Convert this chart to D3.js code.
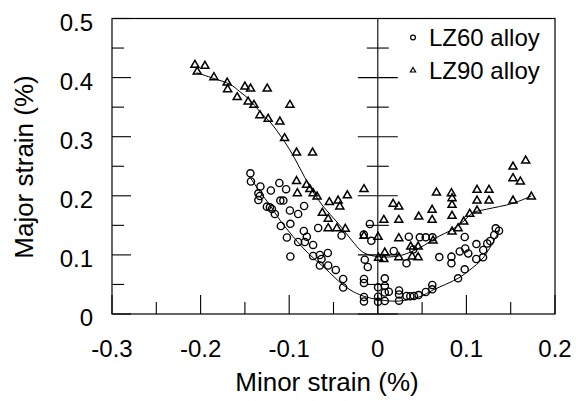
<!DOCTYPE html>
<html>
<head>
<meta charset="utf-8">
<script src="https://cdn.jsdelivr.net/npm/d3@7"></script>
<style>
  body { margin: 0; background: #fff; }
  text { font-family: "Liberation Sans", Arial, sans-serif; fill: #000; }
</style>
</head>
<body>
<script>
// minor / major strain, LZ60 alloy (circles)
var lz60X = [-0.1438,-0.1432,-0.1325,-0.1207,-0.1111,-0.1035,-0.1348,-0.1331,-0.1348,-0.110,-0.1066,
  -0.1252,-0.1218,-0.1195,-0.1162,-0.0992,-0.0899,-0.0832,-0.1094,-0.0987,-0.1026,-0.0899,-0.0835,
  -0.0823,-0.0801,-0.073,-0.0987,-0.073,-0.0654,-0.0635,-0.0654,-0.0564,-0.056,-0.0474,-0.0391,
  -0.0391,-0.0673,-0.0409,-0.009,-0.0158,-0.0073,-0.0147,-0.0113,-0.0156,-0.0156,-0.0156,-0.0156,
  0.0003,0.0003,0.0003,0.0079,0.0079,0.0079,0.0124,0.0079,0.024,0.024,0.024,0.0324,0.0367,0.0408,
  0.046,0.0541,0.0615,0.0615,0.0906,0.0981,0.1111,0.1188,0.119,0.1235,0.1269,0.1331,0.1368,0.1314,
  0.1113,0.0981,0.0925,0.1021,0.0987,0.0831,0.0831,0.0694,0.0617,0.0541,0.0474,0.035,0.018,0.0324,0.040];
var lz60Y = [0.2381,0.2242,0.2157,0.209,0.2217,0.2112,0.2042,0.1997,0.1929,0.192,0.192,
  0.1816,0.1805,0.1777,0.1692,0.1751,0.1692,0.1827,0.1489,0.1526,0.1294,0.1218,0.1404,
  0.1218,0.1308,0.1168,0.0973,0.0981,0.0998,0.0931,0.0821,0.1032,0.0821,0.0745,0.0592,
  0.0448,0.1455,0.1328,0.1523,0.1345,0.1239,0.0919,0.0795,0.0592,0.0525,0.0288,0.0212,
  0.0293,0.0208,0.0452,0.0604,0.0474,0.0364,0.0377,0.022,0.0398,0.033,0.0225,0.0305,0.030,0.0305,
  0.0321,0.0372,0.0418,0.0491,0.0604,0.0756,0.0931,0.0959,0.1083,0.1193,0.1235,0.145,0.1409,0.1337,
  0.1184,0.1303,0.1058,0.1024,0.1108,0.097,0.0858,0.0964,0.1298,0.1298,0.1298,0.1308,0.1066,0.0858,0.1091];

// LZ90 alloy (triangles)
var lz90X = [-0.2064,-0.1951,-0.2038,-0.185,-0.170,-0.1695,-0.150,-0.1436,-0.1248,-0.1587,-0.1463,
  -0.1398,-0.0992,-0.1331,-0.1237,-0.1105,-0.1052,-0.0917,-0.0736,-0.0917,-0.0804,-0.0767,-0.0908,
  -0.073,-0.0685,-0.0547,-0.0448,-0.0429,-0.0344,-0.0156,-0.0626,-0.056,-0.056,-0.0462,-0.0367,
  -0.0156,0.0003,0.0068,0.0079,0.0008,0.0068,0.0237,0.0173,0.0237,0.0237,0.0237,0.0372,0.0455,
  0.0387,0.0455,0.0462,0.0613,0.0613,0.0624,0.0662,0.0831,0.0838,0.0838,0.0838,0.0838,0.0906,
  0.097,0.1038,0.112,0.112,0.1255,0.112,0.1255,0.1526,0.1526,0.1669,0.1526,0.1609,0.1733];
var lz90Y = [0.4213,0.4196,0.410,0.4005,0.3914,0.380,0.3846,0.3812,0.3812,0.3667,0.3592,
  0.3536,0.3536,0.3362,0.330,0.3254,0.2973,0.2729,0.2729,0.2247,0.2183,0.211,0.2042,
  0.2042,0.1985,0.189,0.1917,0.1816,0.2005,0.211,0.1709,0.1607,0.145,0.145,0.1438,
  0.132,0.1303,0.159,0.1037,0.0948,0.0926,0.0959,0.1861,0.1816,0.159,0.128,0.1139,0.1139,
  0.097,0.0959,0.1646,0.159,0.176,0.124,0.2052,0.2042,0.1957,0.1844,0.1658,0.1393,0.145,
  0.1562,0.1692,0.1748,0.1917,0.1917,0.2098,0.2098,0.1917,0.2492,0.2594,0.2296,0.2239,0.1985];

// fitted curves
var fit60X = [-0.1444,-0.1331,-0.1218,-0.1105,-0.0955,-0.0786,-0.0598,-0.0391,-0.024,-0.009,
  0.0079,0.0248,0.0474,0.0624,0.0906,0.1038,0.1188,0.1376];
var fit60Y = [0.2318,0.2069,0.1844,0.159,0.1308,0.1027,0.0778,0.0491,0.035,0.0271,
  0.0228,0.022,0.0293,0.0406,0.0604,0.0745,0.0948,0.1421];
var fit90X = [-0.2045,-0.1857,-0.1669,-0.1556,-0.1444,-0.1331,-0.1218,-0.1105,-0.0992,-0.088,
  -0.0767,-0.062,-0.0448,-0.0297,-0.0166,0.0003,0.0229,0.038,0.053,0.068,0.0831,0.0962,
  0.1075,0.1226,0.1526,0.1733];
var fit90Y = [0.4083,0.3988,0.3887,0.3761,0.3621,0.3423,0.3254,0.3029,0.2775,0.247,
  0.2154,0.1827,0.1535,0.1252,0.1044,0.097,0.0981,0.1054,0.1168,0.1308,0.1421,0.1562,
  0.1714,0.1772,0.1873,0.1997];

var xTicks = [-0.3,-0.2,-0.1,0,0.1,0.2];
var xMinor = [-0.25,-0.15,-0.05,0.05,0.15];
var yTicks = [0,0.1,0.2,0.3,0.4,0.5];
var yMinor = [0.05,0.15,0.25,0.35,0.45];
var seriesNames = ["LZ60 alloy", "LZ90 alloy"];

var width = 576, height = 401;
// plot box edges (window.top is taken, so own names)
var pLeft = 112, pRight = 555, pTop = 18.5, pBottom = 314;

var x = d3.scaleLinear().domain([-0.3, 0.2]).range([pLeft, pRight]);
var y = d3.scaleLinear().domain([0, 0.5]).range([pBottom, pTop]);

var svg = d3.select("body").append("svg")
    .attr("width", width)
    .attr("height", height);

// frame
svg.append("rect")
    .attr("x", pLeft).attr("y", pTop)
    .attr("width", pRight - pLeft).attr("height", pBottom - pTop)
    .attr("fill", "none").attr("stroke", "#000").attr("stroke-width", 1.2);

// ticks on left and bottom, pointing inward
function tickLine(x1, y1, x2, y2) {
  svg.append("line")
      .attr("x1", x1).attr("y1", y1).attr("x2", x2).attr("y2", y2)
      .attr("stroke", "#000").attr("stroke-width", 1.1);
}
yTicks.forEach(function(t) { tickLine(pLeft, y(t), pLeft + 19, y(t)); });
yMinor.forEach(function(t) { tickLine(pLeft, y(t), pLeft + 12, y(t)); });
xTicks.forEach(function(t) { tickLine(x(t), pBottom, x(t), pBottom - 19); });
xMinor.forEach(function(t) { tickLine(x(t), pBottom, x(t), pBottom - 12); });

// the vertical axis through zero, with crossing ticks
tickLine(x(0), pTop, x(0), pBottom);
yTicks.forEach(function(t) { tickLine(x(0) - 20, y(t), x(0) + 20, y(t)); });
yMinor.forEach(function(t) { tickLine(x(0) - 11, y(t), x(0) + 11, y(t)); });

// tick labels
svg.selectAll(".ylab").data(yTicks).enter().append("text")
    .attr("class", "ylab")
    .attr("x", 93).attr("y", function(d) { return y(d) + 12; })
    .attr("text-anchor", "end").attr("font-size", 24)
    .text(function(d) { return String(d); });

svg.selectAll(".xlab").data(xTicks).enter().append("text")
    .attr("class", "xlab")
    .attr("x", function(d) { return x(d); }).attr("y", 357)
    .attr("text-anchor", "middle").attr("font-size", 24)
    .text(function(d) { return String(d); });

// axis titles
svg.append("text")
    .attr("x", 327).attr("y", 391)
    .attr("text-anchor", "middle").attr("font-size", 26)
    .text("Minor strain (%)");
svg.append("text")
    .attr("transform", "translate(33,167) rotate(-90)")
    .attr("text-anchor", "middle").attr("font-size", 26)
    .text("Major strain (%)");

// fitted lines
var line = d3.line()
    .x(function(d) { return x(d[0]); })
    .y(function(d) { return y(d[1]); })
    .curve(d3.curveCatmullRom);
svg.append("path")
    .attr("d", line(d3.zip(fit60X, fit60Y)))
    .attr("fill", "none").attr("stroke", "#000").attr("stroke-width", 1);
svg.append("path")
    .attr("d", line(d3.zip(fit90X, fit90Y)))
    .attr("fill", "none").attr("stroke", "#000").attr("stroke-width", 1);

// markers
svg.selectAll(".c60").data(d3.zip(lz60X, lz60Y)).enter().append("circle")
    .attr("class", "c60")
    .attr("cx", function(d) { return x(d[0]); })
    .attr("cy", function(d) { return y(d[1]); })
    .attr("r", 3.6)
    .attr("fill", "none").attr("stroke", "#000").attr("stroke-width", 1.4);

var tri = d3.symbol().type(d3.symbolTriangle).size(28);
svg.selectAll(".t90").data(d3.zip(lz90X, lz90Y)).enter().append("path")
    .attr("class", "t90")
    .attr("d", tri)
    .attr("transform", function(d) { return "translate(" + x(d[0]) + "," + y(d[1]) + ")"; })
    .attr("fill", "none").attr("stroke", "#000").attr("stroke-width", 1.5);

// legend
svg.append("circle")
    .attr("cx", 413).attr("cy", 37.5).attr("r", 2.4)
    .attr("fill", "none").attr("stroke", "#000").attr("stroke-width", 1.2);
svg.append("path")
    .attr("d", d3.symbol().type(d3.symbolTriangle).size(12)())
    .attr("transform", "translate(413,70.5)")
    .attr("fill", "none").attr("stroke", "#000").attr("stroke-width", 1.2);
svg.selectAll(".leg").data(seriesNames).enter().append("text")
    .attr("class", "leg")
    .attr("x", 429).attr("y", function(d, i) { return 46 + i * 32.5; })
    .attr("font-size", 24)
    .text(function(d) { return d; });
</script>
</body>
</html>
